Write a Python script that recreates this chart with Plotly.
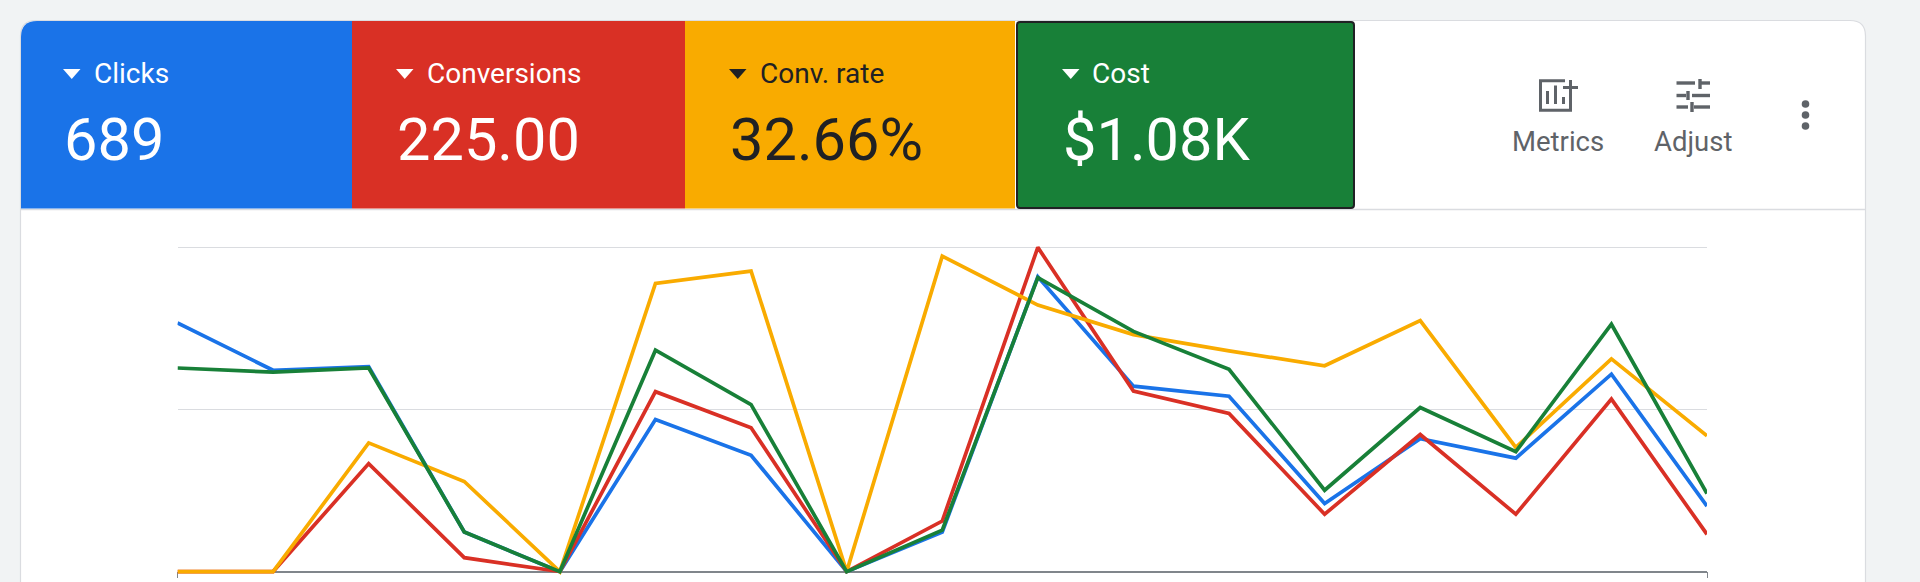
import plotly.graph_objects as go

# Daily metrics, each series indexed to its own 0-100 scale
days = list(range(17))
clicks = [76.7, 62.1, 63.2, 12.2, 0, 46.9, 35.9, 0, 12.2, 90.9, 57.2, 54.1, 21.0, 41.0, 35.0, 60.9, 20.2]
conversions = [0, 0, 33.3, 4.3, 0, 55.5, 44.4, 0, 15.6, 100, 55.7, 48.8, 17.7, 42.3, 17.7, 53.2, 11.5]
conv_rate = [0, 0, 39.7, 27.8, 0, 88.9, 92.7, 0, 97.3, 82.2, 73.1, 68.1, 63.5, 77.4, 38.3, 65.6, 41.9]
cost = [62.8, 61.5, 62.8, 12.2, 0, 68.3, 51.5, 0, 12.8, 90.7, 74.1, 62.4, 25.1, 50.6, 37.0, 76.3, 24.1]

grid_values = [0, 50, 100]
metric_names = ["Clicks", "Conversions", "Conv. rate", "Cost"]
metric_totals = ["689", "225.00", "32.66%", "$1.08K"]
metric_colors = ["#1a73e8", "#d93025", "#f9ab00", "#188038"]
metric_ink = ["#ffffff", "#ffffff", "#202124", "#ffffff"]

W, H = 1920, 582
FONT = "Roboto"
GREY = "#5f6368"
BORDER = "#dadce0"


def fx(x):
    return x / W


def fy(y):
    return 1 - y / H


def pt(x, y):
    return f"{fx(x):.6f},{fy(y):.6f}"


def poly(points, close=True):
    d = "M" + " L".join(pt(x, y) for x, y in points)
    return d + (" Z" if close else "")


def fill_shape(path, fill, line=None, width=0):
    return dict(type="path", xref="paper", yref="paper", path=path, fillcolor=fill,
                line=dict(color=line or fill, width=width), layer="below")


def stroke_shape(points, color, width):
    return dict(type="path", xref="paper", yref="paper", path=poly(points, close=False),
                line=dict(color=color, width=width), layer="below")


def rounded_rect(x0, y0, x1, y1, r):
    return (f"M{pt(x0 + r, y0)} L{pt(x1 - r, y0)} Q{pt(x1, y0)} {pt(x1, y0 + r)} "
            f"L{pt(x1, y1 - r)} Q{pt(x1, y1)} {pt(x1 - r, y1)} L{pt(x0 + r, y1)} "
            f"Q{pt(x0, y1)} {pt(x0, y1 - r)} L{pt(x0, y0 + r)} Q{pt(x0, y0)} {pt(x0 + r, y0)} Z")


def label(x, y, text, size, color, weight=400, anchor="left"):
    return dict(xref="paper", yref="paper", x=fx(x), y=fy(y), text=text, showarrow=False,
                xanchor=anchor, yanchor="middle", align=anchor,
                font=dict(family=FONT, size=size, color=color, weight=weight),
                borderpad=0, borderwidth=0)


shapes = []
notes = []

# Card with rounded top corners, running off the bottom of the page
shapes.append(fill_shape(
    f"M{pt(20.5, 600)} L{pt(20.5, 36)} Q{pt(20.5, 20.5)} {pt(36, 20.5)} L{pt(1850, 20.5)} "
    f"Q{pt(1865.5, 20.5)} {pt(1865.5, 36)} L{pt(1865.5, 600)} Z",
    "#ffffff", BORDER, 1.2))
shapes.append(stroke_shape([(21, 209.5), (1865, 209.5)], BORDER, 1.5))

# Metric tiles
tile_edges = [(21, 352), (352, 685), (685, 1015), (1017, 1354)]
text_left = [94, 427, 760, 1092]
total_left = [64, 397, 730, 1063]
tri_left = [63, 396, 729, 1062]

for i, (x0, x1) in enumerate(tile_edges):
    if i == 0:
        path = (f"M{pt(x0, 208.5)} L{pt(x0, 37)} Q{pt(x0, 21)} {pt(x0 + 16, 21)} "
                f"L{pt(x1, 21)} L{pt(x1, 208.5)} Z")
        shapes.append(fill_shape(path, metric_colors[i]))
    elif i == 3:
        shapes.append(fill_shape(rounded_rect(x0, 22, x1, 208, 3), metric_colors[i], "#202124", 2))
    else:
        shapes.append(fill_shape(poly([(x0, 21), (x1, 21), (x1, 208.5), (x0, 208.5)]), metric_colors[i]))
    t = tri_left[i]
    shapes.append(fill_shape(poly([(t, 69), (t + 17.5, 69), (t + 8.75, 79)]), metric_ink[i]))
    notes.append(label(text_left[i], 73, metric_names[i], 28, metric_ink[i], 400))
    notes.append(label(total_left[i], 140, metric_totals[i], 59.5, metric_ink[i]))

# Metrics icon: framed bars with a plus sign
shapes.append(stroke_shape([(1565, 80.8), (1540.5, 80.8), (1540.5, 110.2), (1570.5, 110.2), (1570.5, 94)], GREY, 3))
shapes.append(stroke_shape([(1547.5, 91), (1547.5, 104)], GREY, 3))
shapes.append(stroke_shape([(1555.5, 85.5), (1555.5, 104)], GREY, 3))
shapes.append(stroke_shape([(1563.5, 97), (1563.5, 104)], GREY, 3))
shapes.append(stroke_shape([(1563, 87.5), (1578, 87.5)], GREY, 3))
shapes.append(stroke_shape([(1570.5, 80), (1570.5, 95)], GREY, 3))

# Adjust icon: three sliders
shapes.append(stroke_shape([(1676.5, 83), (1695, 83)], GREY, 3.4))
shapes.append(stroke_shape([(1701, 83), (1710, 83)], GREY, 3.4))
shapes.append(stroke_shape([(1700, 79), (1700, 89)], GREY, 3.4))
shapes.append(stroke_shape([(1676.5, 95.5), (1686, 95.5)], GREY, 3.4))
shapes.append(stroke_shape([(1692, 95.5), (1710, 95.5)], GREY, 3.4))
shapes.append(stroke_shape([(1688, 91), (1688, 100)], GREY, 3.4))
shapes.append(stroke_shape([(1676.5, 107), (1688, 107)], GREY, 3.4))
shapes.append(stroke_shape([(1694, 107), (1710, 107)], GREY, 3.4))
shapes.append(stroke_shape([(1692, 102), (1692, 112)], GREY, 3.4))

notes.append(label(1557.5, 141.5, "Metrics", 27.5, GREY, anchor="center"))
notes.append(label(1693, 141.5, "Adjust", 27.5, GREY, anchor="center"))

# Overflow menu dots
for cy in (104, 115, 126):
    shapes.append(dict(type="circle", xref="paper", yref="paper", layer="below",
                       x0=fx(1801.7), x1=fx(1809.3), y0=fy(cy + 3.8), y1=fy(cy - 3.8),
                       fillcolor=GREY, line=dict(width=0)))

fig = go.Figure()
for name, values, color in [("Clicks", clicks, metric_colors[0]),
                            ("Conversions", conversions, metric_colors[1]),
                            ("Conv. rate", conv_rate, metric_colors[2]),
                            ("Cost", cost, metric_colors[3])]:
    fig.add_trace(go.Scatter(x=days, y=values, name=name, mode="lines",
                             line=dict(color=color, width=3.7, shape="linear")))

# Plot area in page pixels; the value axis runs a little past 0 and 100 so strokes stay whole
PLOT_LEFT, PLOT_RIGHT = 177.5, 1707
PLOT_TOP, PLOT_BOTTOM = 237, 581
Y0_PX, Y100_PX = 571.6, 247.4
px_per_unit = (Y0_PX - Y100_PX) / 100

fig.update_layout(
    width=W, height=H, autosize=False,
    margin=dict(l=0, r=0, t=0, b=0, pad=0),
    paper_bgcolor="#f1f3f4", plot_bgcolor="rgba(0,0,0,0)",
    showlegend=False,
    font=dict(family=FONT),
    shapes=shapes, annotations=notes,
    xaxis=dict(domain=[fx(PLOT_LEFT), fx(PLOT_RIGHT)], range=[0, 16],
               anchor="free", position=fy(Y0_PX), layer="below traces",
               showgrid=False, zeroline=False, showline=True, linecolor="#80868b", linewidth=1.6,
               ticks="outside", tickvals=[0, 16], ticklen=6, tickwidth=1, tickcolor="#80868b",
               showticklabels=False),
    yaxis=dict(domain=[fy(PLOT_BOTTOM), fy(PLOT_TOP)],
               range=[(Y0_PX - PLOT_BOTTOM) / px_per_unit, (Y0_PX - PLOT_TOP) / px_per_unit],
               tickvals=grid_values, showticklabels=False, ticks="", layer="below traces",
               showgrid=True, gridcolor=BORDER, gridwidth=1.2, zeroline=False, showline=False),
)

fig.write_html("out.html", config=dict(displayModeBar=False))
